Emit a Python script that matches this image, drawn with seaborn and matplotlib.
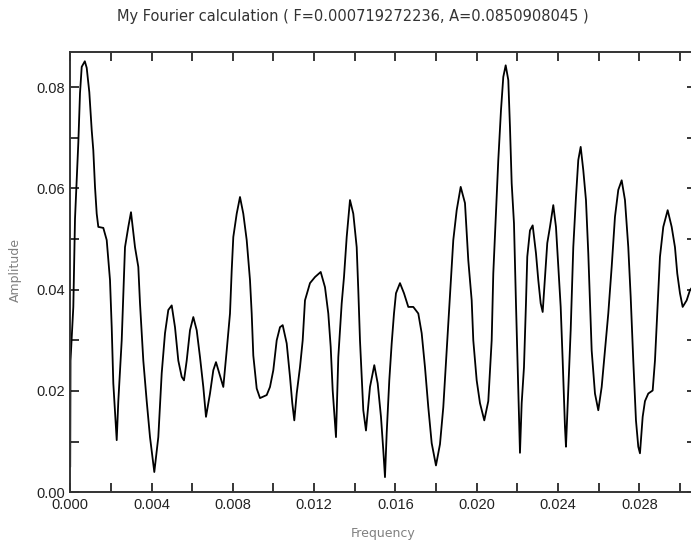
import numpy as np
import pandas as pd
from matplotlib import pyplot as plt
from matplotlib.ticker import MultipleLocator, FormatStrFormatter
import seaborn as sns

# frequency and amplitude values
frequency = [
    0.000000, 0.000015, 0.000153, 0.000236, 0.000399, 0.000482, 0.000566, 0.000719,
    0.000812, 0.000940, 0.001058, 0.001137, 0.001220, 0.001304, 0.001383, 0.001629,
    0.001796, 0.001958, 0.002042, 0.002121, 0.002288, 0.002367, 0.002534, 0.002696,
    0.002859, 0.002991, 0.003188, 0.003351, 0.003434, 0.003597, 0.003764, 0.003926,
    0.004138, 0.004335, 0.004502, 0.004664, 0.004827, 0.004994, 0.005156, 0.005319,
    0.005486, 0.005599, 0.005732, 0.005894, 0.006057, 0.006224, 0.006386, 0.006549,
    0.006681, 0.006878, 0.007041, 0.007173, 0.007336, 0.007533, 0.007700, 0.007862,
    0.007946, 0.008025, 0.008192, 0.008354, 0.008517, 0.008684, 0.008846, 0.008930,
    0.009009, 0.009176, 0.009338, 0.009668, 0.009830, 0.009993, 0.010160, 0.010322,
    0.010455, 0.010652, 0.010814, 0.010927, 0.011026, 0.011144, 0.011306, 0.011439,
    0.011552, 0.011798, 0.012044, 0.012325, 0.012536, 0.012699, 0.012817, 0.012915,
    0.013077, 0.013191, 0.013358, 0.013471, 0.013604, 0.013766, 0.013929, 0.014096,
    0.014175, 0.014258, 0.014421, 0.014553, 0.014750, 0.014962, 0.015129, 0.015291,
    0.015405, 0.015488, 0.015572, 0.015700, 0.015818, 0.015931, 0.016029, 0.016226,
    0.016423, 0.016635, 0.016881, 0.017127, 0.017294, 0.017456, 0.017619, 0.017786,
    0.017997, 0.018194, 0.018357, 0.018524, 0.018686, 0.018849, 0.019016, 0.019213,
    0.019424, 0.019587, 0.019754, 0.019833, 0.020000, 0.020162, 0.020374, 0.020571,
    0.020738, 0.020817, 0.020984, 0.021063, 0.021195, 0.021309, 0.021427, 0.021555,
    0.021638, 0.021722, 0.021835, 0.021933, 0.022047, 0.022130, 0.022214, 0.022327,
    0.022425, 0.022489, 0.022622, 0.022755, 0.022917, 0.023031, 0.023149, 0.023247,
    0.023360, 0.023473, 0.023606, 0.023769, 0.023901, 0.024015, 0.024133, 0.024231,
    0.024344, 0.024393, 0.024507, 0.024625, 0.024753, 0.024885, 0.024999, 0.025117,
    0.025245, 0.025377, 0.025491, 0.025658, 0.025820, 0.025983, 0.026150, 0.026312,
    0.026475, 0.026642, 0.026804, 0.026967, 0.027134, 0.027296, 0.027459, 0.027577,
    0.027705, 0.027837, 0.027951, 0.028034, 0.028167, 0.028280, 0.028443, 0.028659,
    0.028772, 0.028885, 0.029018, 0.029181, 0.029397, 0.029594, 0.029756, 0.029869,
    0.030002, 0.030135, 0.030332, 0.030494, 0.030790,
]
amplitude = [
    0.0050, 0.0260, 0.0366, 0.0540, 0.0690, 0.0788, 0.0840, 0.0851,
    0.0838, 0.0790, 0.0715, 0.0675, 0.0603, 0.0550, 0.0524, 0.0522,
    0.0498, 0.0419, 0.0326, 0.0215, 0.0103, 0.0180, 0.0300, 0.0484,
    0.0524, 0.0553, 0.0484, 0.0445, 0.0373, 0.0260, 0.0180, 0.0109,
    0.0040, 0.0109, 0.0235, 0.0314, 0.0360, 0.0369, 0.0326, 0.0260,
    0.0228, 0.0221, 0.0260, 0.0320, 0.0346, 0.0320, 0.0267, 0.0208,
    0.0149, 0.0195, 0.0241, 0.0257, 0.0235, 0.0208, 0.0280, 0.0353,
    0.0438, 0.0504, 0.0550, 0.0583, 0.0550, 0.0498, 0.0419, 0.0353,
    0.0270, 0.0205, 0.0186, 0.0192, 0.0208, 0.0241, 0.0300, 0.0326,
    0.0330, 0.0294, 0.0228, 0.0176, 0.0142, 0.0195, 0.0247, 0.0300,
    0.0379, 0.0413, 0.0425, 0.0435, 0.0405, 0.0353, 0.0287, 0.0201,
    0.0109, 0.0267, 0.0373, 0.0425, 0.0504, 0.0577, 0.0550, 0.0484,
    0.0399, 0.0300, 0.0162, 0.0122, 0.0208, 0.0251, 0.0215, 0.0149,
    0.0083, 0.0030, 0.0117, 0.0221, 0.0294, 0.0353, 0.0393, 0.0413,
    0.0393, 0.0366, 0.0366, 0.0353, 0.0314, 0.0247, 0.0168, 0.0097,
    0.0053, 0.0095, 0.0168, 0.0280, 0.0390, 0.0498, 0.0557, 0.0603,
    0.0571, 0.0458, 0.0379, 0.0300, 0.0221, 0.0176, 0.0142, 0.0180,
    0.0300, 0.0432, 0.0583, 0.0656, 0.0754, 0.0820, 0.0843, 0.0814,
    0.0721, 0.0610, 0.0531, 0.0373, 0.0201, 0.0078, 0.0176, 0.0247,
    0.0373, 0.0465, 0.0517, 0.0527, 0.0472, 0.0419, 0.0373, 0.0356,
    0.0425, 0.0492, 0.0524, 0.0567, 0.0524, 0.0445, 0.0366, 0.0260,
    0.0129, 0.0090, 0.0201, 0.0320, 0.0484, 0.0583, 0.0656, 0.0682,
    0.0636, 0.0577, 0.0472, 0.0280, 0.0195, 0.0162, 0.0208, 0.0280,
    0.0353, 0.0445, 0.0544, 0.0597, 0.0616, 0.0577, 0.0484, 0.0386,
    0.0260, 0.0142, 0.0090, 0.0077, 0.0149, 0.0180, 0.0195, 0.0201,
    0.0260, 0.0353, 0.0465, 0.0524, 0.0557, 0.0524, 0.0484, 0.0432,
    0.0393, 0.0366, 0.0379, 0.0399, 0.0415,
]

title = 'My Fourier calculation ( F=0.000719272236, A=0.0850908045 )'

sns.set_style('ticks')
plt.rcParams['font.family'] = ['Liberation Sans', 'DejaVu Sans']

df = pd.DataFrame({'Frequency': frequency, 'Amplitude': amplitude})

fig = plt.figure(figsize=(6.91, 5.42), dpi=100)
# the right edge of the frame runs just past the picture, as in the original
ax = fig.add_axes([0.1016, 0.0917, 0.9059, 0.8118])

sns.lineplot(data=df, x='Frequency', y='Amplitude', color='black',
             linewidth=1.3, estimator=None, sort=False, ax=ax)

ax.set_xlim(0, 0.0308)
ax.set_ylim(0, 0.08687)

ax.xaxis.set_major_locator(MultipleLocator(0.004))
ax.xaxis.set_minor_locator(MultipleLocator(0.002))
ax.xaxis.set_major_formatter(FormatStrFormatter('%.3f'))
ax.yaxis.set_major_locator(MultipleLocator(0.02))
ax.yaxis.set_minor_locator(MultipleLocator(0.01))
ax.yaxis.set_major_formatter(FormatStrFormatter('%.2f'))

ax.tick_params(which='both', direction='in', length=6.5, width=1.1,
               top=True, right=True, color='black')
ax.tick_params(which='major', labelsize=10.5, pad=4, labelcolor='#222222')
for side in ['left', 'bottom', 'top', 'right']:
    ax.spines[side].set_linewidth(1.4)
    ax.spines[side].set_color('#333333')

ax.set_xlabel('Frequency', fontsize=9, color='#808080', family='DejaVu Sans')
ax.set_ylabel('Amplitude', fontsize=9, color='#808080', family='DejaVu Sans')
ax.xaxis.set_label_coords(0.5, -0.078)
ax.yaxis.set_label_coords(-0.077, 0.505)
fig.suptitle(title, x=0.511, y=0.983, fontsize=10.5, color='#333333',
             family='DejaVu Sans')

plt.savefig('out.png', dpi=100)
